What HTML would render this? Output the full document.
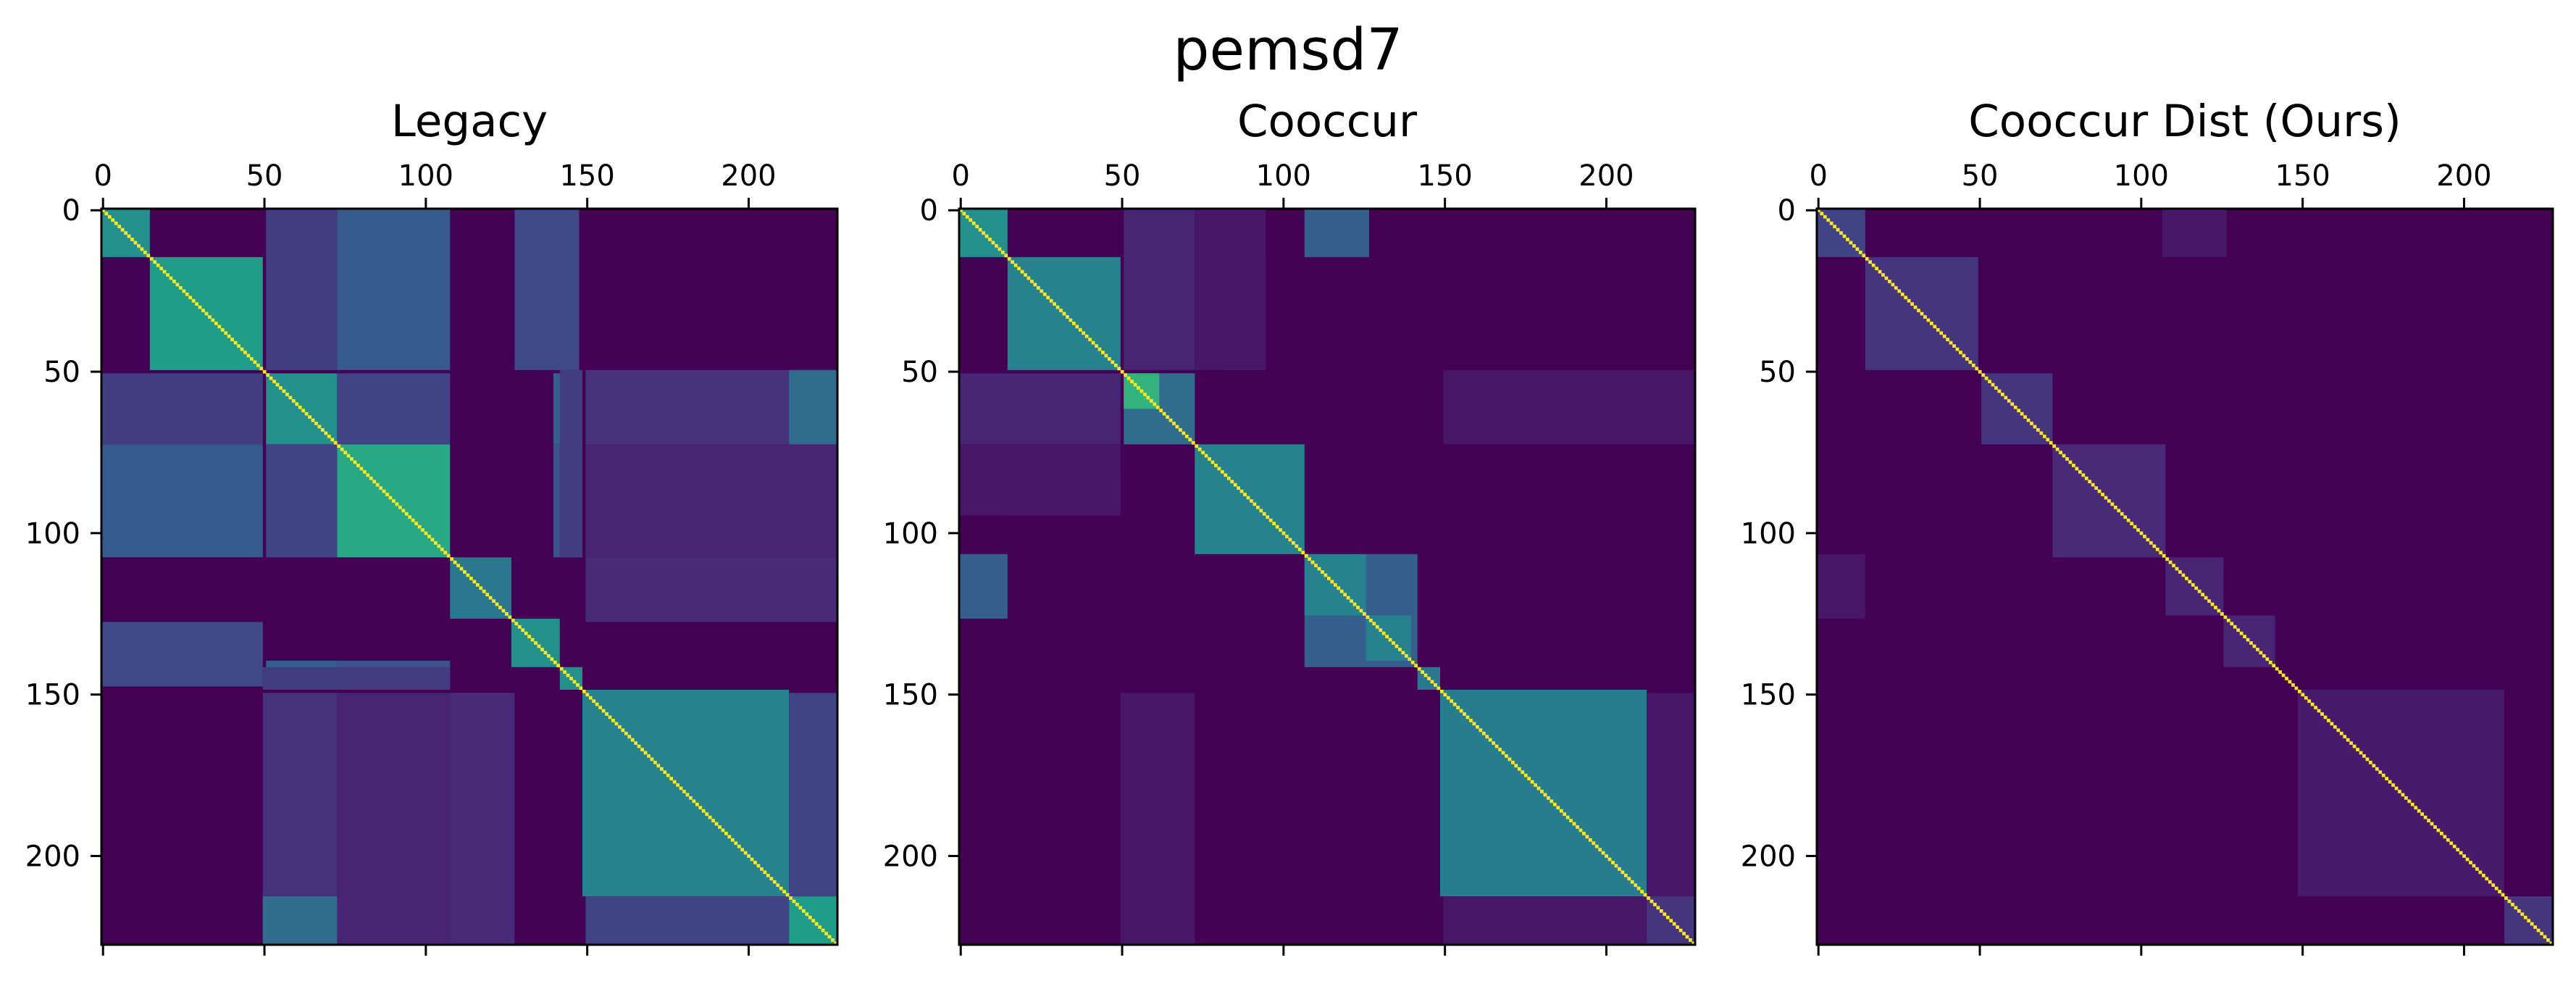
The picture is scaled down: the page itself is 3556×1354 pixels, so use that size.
<!DOCTYPE html>
<html><head><meta charset="utf-8"><style>
html,body{margin:0;padding:0;background:#fff;}
svg text{font-family:"DejaVu Sans","Liberation Sans",sans-serif;fill:#000;}
</style></head><body>
<svg id="fig" xmlns="http://www.w3.org/2000/svg" width="3556" height="1349" viewBox="0 0 3556 1349">
<rect x="0" y="0" width="3556" height="1349" fill="#fff"/>
<text x="1778" y="96" font-size="79" text-anchor="middle">pemsd7</text>
</svg>
<script>
// ---- data ----
const nNodes = 228;
const panelTitles = ["Legacy", "Cooccur", "Cooccur Dist (Ours)"];
const tickValues = [0, 50, 100, 150, 200];
// blocks: [rowStart,rowEnd,colStart,colEnd,meanValue]; off-diagonal blocks mirrored
const legacyBlocks = [
 [0,15,0,15,.5],[15,50,15,50,.55],[51,73,51,73,.5],[73,108,73,108,.6],[108,127,108,127,.4],
 [127,142,127,142,.5],[142,149,142,149,.5],[149,213,149,213,.45],[213,228,213,228,.55],
 [0,50,51,73,.18],[0,50,73,108,.28],[0,50,128,148,.22],[51,73,73,108,.2],[51,73,140,149,.3],
 [51,73,150,213,.1],[51,73,213,228,.35],[73,108,140,149,.25],[73,108,150,228,.15],
 [108,127,150,228,.12],[142,149,50,108,.18],[150,228,50,73,.14],[150,228,73,108,.1],
 [150,228,108,128,.12],[213,228,50,73,.35],[150,213,213,228,.2]
];
const cooccurBlocks = [
 [0,15,0,15,.5],[15,50,15,50,.45],[51,73,51,73,.35],[51,62,51,62,.65],[73,107,73,107,.45],
 [107,142,107,142,.3],[107,126,107,126,.45],[126,140,126,140,.45],[142,149,142,149,.4],
 [149,213,149,213,.42],[213,228,213,228,.15],
 [0,15,107,127,.3],[0,50,51,73,.1],[15,50,82,95,.1],[51,73,150,228,.07],[73,95,0,50,.06],
 [150,228,50,73,.06],[150,213,213,228,.06]
];
const oursBlocks = [
 [0,15,0,15,.2],[15,50,15,50,.15],[51,73,51,73,.15],[73,108,73,108,.12],[108,126,108,126,.1],
 [126,142,126,142,.1],[149,213,149,213,.07],[213,228,213,228,.15],[0,15,107,127,.06]
];
const diagonalValue = 1;
const panelBlocks = [legacyBlocks, cooccurBlocks, oursBlocks];

// ---- layout ----
const panelLeft = [140, 1324, 2508];
const panelTop = 288, panelSize = 1016;
const cell = panelSize / nNodes;
const vir = [[68,1,84],[72,40,120],[62,74,137],[49,104,142],[38,130,142],[31,158,137],[53,183,121],[110,206,88],[181,222,43],[253,231,37]];
function viridis(t){t=Math.max(0,Math.min(1,t));const p=t*(vir.length-1);const i=Math.min(vir.length-2,Math.floor(p));const f=p-i;
 const c=vir[i].map((v,k)=>Math.round(v+(vir[i+1][k]-v)*f));return `rgb(${c[0]},${c[1]},${c[2]})`;}
const NS="http://www.w3.org/2000/svg";
const svg=document.getElementById('fig');
function mk(tag,attrs,parent){const e=document.createElementNS(NS,tag);for(const k in attrs)e.setAttribute(k,attrs[k]);(parent||svg).appendChild(e);return e;}

panelBlocks.forEach((blocks,p)=>{
 const L=panelLeft[p];
 const xs=v=>L+v*cell, ys=v=>panelTop+v*cell;
 const g=mk('g',{});
 
 
 const bg=mk('rect',{x:L,y:panelTop,width:panelSize,height:panelSize,fill:viridis(0)},g);
 
 
 blocks.forEach(b=>{
  const draw=(r0,r1,c0,c1)=>{const r=mk('rect',{x:xs(c0),y:ys(r0),width:xs(c1)-xs(c0),height:ys(r1)-ys(r0),fill:viridis(b[4])},g);
   
   };
  draw(b[0],b[1],b[2],b[3]);
  if(b[0]!==b[2]||b[1]!==b[3]) draw(b[2],b[3],b[0],b[1]);
 });
 for(let i=0;i<nNodes;i++){
  const d=mk('rect',{x:xs(i),y:ys(i),width:cell+0.3,height:cell+0.3,fill:viridis(diagonalValue)},g);
  
  
 }
 const fr=mk('rect',{x:L,y:panelTop,width:panelSize,height:panelSize,fill:'none',stroke:'#000','stroke-width':3},g);
 
 
 tickValues.forEach(t=>{
  const cx=xs(t+0.5), cy=ys(t+0.5);
  mk('line',{x1:cx,x2:cx,y1:panelTop,y2:panelTop-15,stroke:'#000','stroke-width':3},g);
  mk('line',{x1:cx,x2:cx,y1:panelTop+panelSize,y2:panelTop+panelSize+15,stroke:'#000','stroke-width':3},g);
  mk('line',{x1:L,x2:L-15,y1:cy,y2:cy,stroke:'#000','stroke-width':3},g);
  const tx=mk('text',{x:cx,y:256,'font-size':40,'text-anchor':'middle'},g);tx.textContent=t;
  
  
  const ty=mk('text',{x:L-29,y:cy+14,'font-size':40,'text-anchor':'end'},g);ty.textContent=t;
  
  
 });
 const tt=mk('text',{x:L+panelSize/2,y:188,'font-size':61,'text-anchor':'middle'},g);tt.textContent=panelTitles[p];
 
 
});
</script>
</body></html>
